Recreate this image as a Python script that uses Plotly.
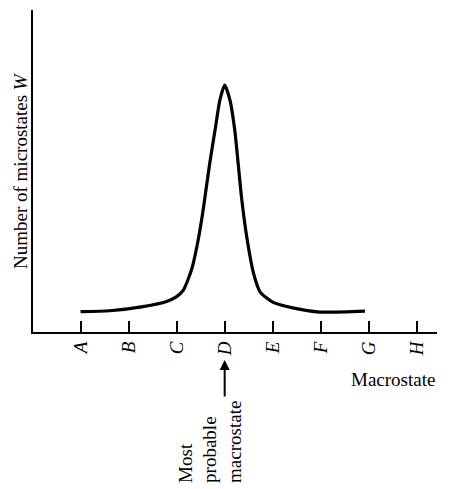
import plotly.graph_objects as go

# Macrostate categories (tick labels) at positions 0..7
macrostates = ["A", "B", "C", "D", "E", "F", "G", "H"]
tick_pos = [0, 1, 2, 3, 4, 5, 6, 7]

# Curve: macrostate position vs number of microstates W (arbitrary units)
curve_x = [0.0, 0.61, 1.30, 1.79, 2.0, 2.14, 2.31, 2.42, 2.52, 2.59, 2.69, 2.80, 2.90, 3.0,
           3.11, 3.21, 3.28, 3.35, 3.46, 3.60, 3.74, 4.0, 4.42, 4.98, 5.92]
curve_w = [6.3, 6.6, 7.9, 9.5, 11.0, 13.0, 19.3, 26.4, 34.8, 41.9, 52.5, 62.7, 72.0, 76.7,
           72.0, 62.7, 52.5, 41.9, 29.5, 18.3, 12.4, 9.3, 7.5, 6.2, 6.5]

FONT = "Liberation Serif"

fig = go.Figure()
fig.add_trace(go.Scatter(
    x=curve_x, y=curve_w, mode="lines",
    line=dict(color="black", width=3.2, shape="spline", smoothing=0.6),
    hoverinfo="skip", showlegend=False,
))

fig.update_layout(
    width=458, height=489,
    margin=dict(l=25, r=29, t=2, b=165),
    paper_bgcolor="white", plot_bgcolor="white",
    font=dict(family=FONT, size=19, color="black"),
    xaxis=dict(
        range=[-0.99, 7.42], showgrid=False, zeroline=False,
        showline=True, linecolor="black", linewidth=2,
        tickmode="array", tickvals=tick_pos, ticktext=macrostates,
        ticks="inside", ticklen=11, tickwidth=1.5, tickcolor="black",
        tickangle=-90, tickfont=dict(family=FONT, size=19, style="italic"),
    ),
    yaxis=dict(
        range=[0, 100], showgrid=False, zeroline=False,
        showline=True, linecolor="black", linewidth=2,
        showticklabels=False, ticks="",
    ),
    annotations=[
        dict(xref="paper", yref="paper", x=0, y=0.5, xshift=-13,
             text="Number of microstates <i>W</i>", textangle=-90,
             showarrow=False, xanchor="center", yanchor="middle",
             font=dict(family=FONT, size=19)),
        dict(xref="paper", yref="paper", x=1.0, y=-0.149,
             text="Macrostate", showarrow=False,
             xanchor="right", yanchor="middle",
             font=dict(family=FONT, size=19)),
        dict(xref="x", yref="paper", x=3, y=-0.087, text="",
             showarrow=True, ax=0, ay=38, arrowhead=2, arrowsize=1,
             arrowwidth=2, arrowcolor="black"),
        dict(xref="x", yref="paper", x=2.69, y=-0.342,
             text="Most<br>probable<br>macrostate", textangle=-90,
             align="left", showarrow=False,
             xanchor="center", yanchor="middle",
             font=dict(family=FONT, size=19)),
    ],
)

fig.write_html("out.html")
